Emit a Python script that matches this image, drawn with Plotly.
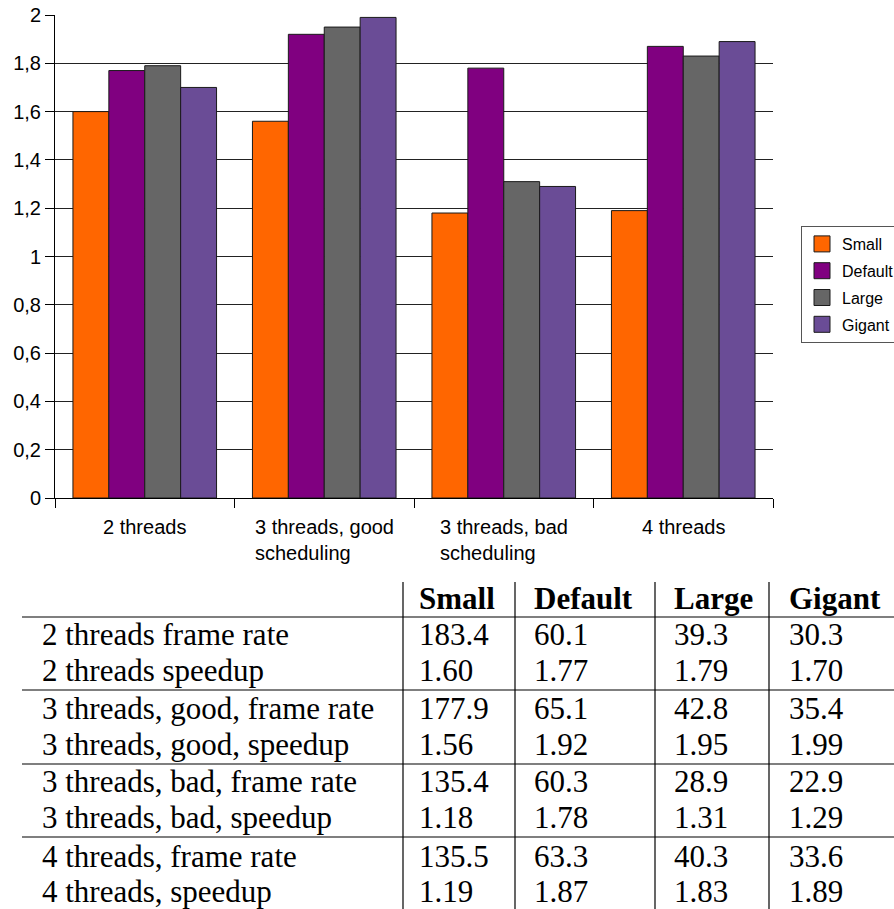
import plotly.graph_objects as go

W, H = 894, 909

# ---- data -------------------------------------------------------------
categories = ["2 threads", "3 threads, good\nscheduling", "3 threads, bad\nscheduling", "4 threads"]
series_names = ["Small", "Default", "Large", "Gigant"]
series_colors = ["#FF6600", "#800080", "#666666", "#6A4C96"]

speedup_small = [1.60, 1.56, 1.18, 1.19]
speedup_default = [1.77, 1.92, 1.78, 1.87]
speedup_large = [1.79, 1.95, 1.31, 1.83]
speedup_gigant = [1.70, 1.99, 1.29, 1.89]

fps_small = [183.4, 177.9, 135.4, 135.5]
fps_default = [60.1, 65.1, 60.3, 63.3]
fps_large = [39.3, 42.8, 28.9, 40.3]
fps_gigant = [30.3, 35.4, 22.9, 33.6]

row_prefixes = ["2 threads", "3 threads, good,", "3 threads, bad,", "4 threads,"]

y_tickvals = [0, 0.2, 0.4, 0.6, 0.8, 1.0, 1.2, 1.4, 1.6, 1.8, 2.0]
y_ticktext = ["0", "0,2", "0,4", "0,6", "0,8", "1", "1,2", "1,4", "1,6", "1,8", "2"]

speedups = [speedup_small, speedup_default, speedup_large, speedup_gigant]
fps = [fps_small, fps_default, fps_large, fps_gigant]


def px(x):
    return x / W


def py(y):
    return 1 - y / H


sans = "Liberation Sans"
serif = "Liberation Serif"
outline = "#1a1a1a"

fig = go.Figure()
for i, name in enumerate(series_names):
    fig.add_trace(go.Bar(
        x=list(range(len(categories))), y=speedups[i], name=name,
        marker=dict(color=series_colors[i], line=dict(color=outline, width=1)),
        showlegend=False,
    ))
# legend entries drawn as large square swatches
for i, name in enumerate(series_names):
    fig.add_trace(go.Scatter(
        x=[None], y=[None], mode="markers", name=name,
        marker=dict(symbol="square", size=16, color=series_colors[i],
                    line=dict(color=outline, width=1)),
        legendgroup=name, showlegend=True,
    ))

fig.update_layout(
    width=W, height=H,
    margin=dict(l=0, r=0, t=0, b=0, autoexpand=False),
    paper_bgcolor="white", plot_bgcolor="white",
    barmode="group", bargap=0.2, bargroupgap=0,
    font=dict(family=sans, color="black", size=20),
    xaxis=dict(
        domain=[px(55), px(773)],
        range=[-0.5, 3.5],
        tickvals=[-0.5, 0.5, 1.5, 2.5, 3.5], ticktext=[""] * 5,
        ticks="outside", ticklen=9, tickcolor="black", tickwidth=1,
        showgrid=False, zeroline=False,
        showline=True, linecolor="black", linewidth=1,
    ),
    yaxis=dict(
        domain=[py(498), py(15)],
        range=[0, 2],
        tickvals=y_tickvals, ticktext=y_ticktext,
        ticks="outside", ticklen=9, tickcolor="black", tickwidth=1,
        showgrid=True, gridcolor="#222222", gridwidth=1,
        zeroline=False, showline=True, linecolor="black", linewidth=1,
        tickfont=dict(size=20),
    ),
    legend=dict(
        x=px(801), y=py(226), xanchor="left", yanchor="top",
        bordercolor="#555555", borderwidth=1, bgcolor="white",
        font=dict(family=sans, size=16, color="black"),
        tracegroupgap=3, itemclick=False, itemwidth=30,
    ),
    showlegend=True,
)

# category labels below the axis, left-aligned multi-line blocks
for i, c in enumerate(categories):
    fig.add_annotation(
        x=i, xref="x", y=py(514), yref="paper",
        text=c.replace("\n", "<br>"), showarrow=False,
        xanchor="center", yanchor="top", align="left",
        font=dict(family=sans, size=20, color="black"),
    )

# ---- table ------------------------------------------------------------
tfont = dict(family=serif, size=31, color="black")
col_x = [40, 417, 532, 672, 787]
vlines = [403, 515, 655, 769]
hlines = [617, 690, 764, 837]
header_y = 598
row_y = [634, 670, 708, 744, 781, 817, 856, 891]

line_style = dict(color="black", width=1.2)
for xv in vlines:
    fig.add_shape(type="line", xref="paper", yref="paper",
                  x0=px(xv), x1=px(xv), y0=py(582), y1=py(H + 2), line=line_style)
for yh in hlines:
    fig.add_shape(type="line", xref="paper", yref="paper",
                  x0=px(22), x1=px(W + 2), y0=py(yh), y1=py(yh), line=line_style)

for j, name in enumerate(series_names):
    fig.add_annotation(x=px(col_x[j + 1]), y=py(header_y), xref="paper", yref="paper",
                       text="<b>%s</b>" % name, showarrow=False,
                       xanchor="left", yanchor="middle", font=tfont)

for g in range(4):
    prefix = row_prefixes[g]
    labels = [prefix + " frame rate", prefix + " speedup"]
    for k in range(2):
        y = row_y[2 * g + k]
        fig.add_annotation(x=px(col_x[0]), y=py(y), xref="paper", yref="paper",
                           text=labels[k], showarrow=False,
                           xanchor="left", yanchor="middle", font=tfont)
        for j in range(4):
            v = fps[j][g] if k == 0 else speedups[j][g]
            txt = "%.1f" % v if k == 0 else "%.2f" % v
            fig.add_annotation(x=px(col_x[j + 1]), y=py(y), xref="paper", yref="paper",
                               text=txt, showarrow=False,
                               xanchor="left", yanchor="middle", font=tfont)

fig.write_html("out.html")
